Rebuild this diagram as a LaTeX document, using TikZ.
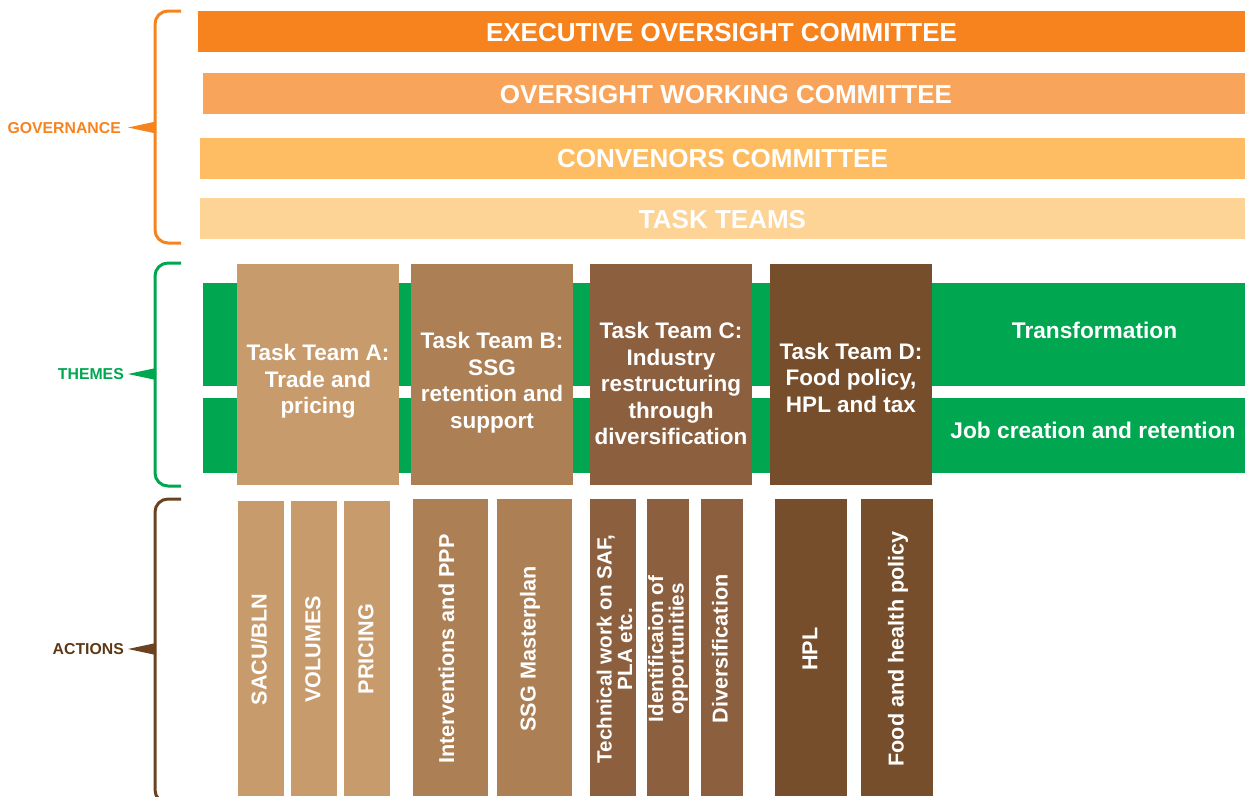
\documentclass[tikz,border=0pt]{standalone}
\usepackage{fontspec}
\setmainfont{Liberation Sans}

% Palette
\definecolor{cExec}{HTML}{F7831F}
\definecolor{cWork}{HTML}{F8A45B}
\definecolor{cConv}{HTML}{FEBD62}
\definecolor{cTask}{HTML}{FDD396}
\definecolor{cGreen}{HTML}{00A650}
\definecolor{cTA}{HTML}{C89B6C}
\definecolor{cTB}{HTML}{AC7F55}
\definecolor{cTC}{HTML}{8C5F3E}
\definecolor{cTD}{HTML}{774E2B}
\definecolor{cActBrace}{HTML}{6B4220}
\definecolor{cActText}{HTML}{5E3815}

\begin{document}
\begin{tikzpicture}[x=1pt,y=-1pt,
  box/.style={draw=none, inner sep=0pt, outer sep=0pt, anchor=north west},
  govtext/.style={text=white, inner sep=0pt, font=\bfseries\fontsize{26}{31}\selectfont},
  teamtext/.style={text=white, inner sep=0pt, align=center, font=\bfseries\fontsize{22.5}{26.6}\selectfont},
  themetext/.style={text=white, inner sep=0pt, font=\bfseries\fontsize{22.7}{27}\selectfont},
  acttext/.style={text=white, inner sep=0pt, align=center, rotate=90, font=\bfseries\fontsize{21.6}{20.5}\selectfont},
  acttwo/.style={acttext, font=\bfseries\fontsize{20.6}{20.4}\selectfont},
  sidetext/.style={inner sep=0pt, anchor=east, font=\bfseries\fontsize{15.8}{19}\selectfont},
  bracket/.style={line width=3pt, rounded corners=13pt},
]
\useasboundingbox (0,0) rectangle (1245,796);
\clip (0,0) rectangle (1245,796);

% ---------------- Governance ----------------
\node[box, fill=cExec, minimum width=1047pt, minimum height=41pt] (exec) at (198,11) {};
\node[govtext] (execT) at ([yshift=-1pt]exec.center) {EXECUTIVE OVERSIGHT COMMITTEE};
\node[box, fill=cWork, minimum width=1042pt, minimum height=41pt] (work) at (203,73) {};
\node[govtext] (workT) at ([xshift=2pt,yshift=-1pt]work.center) {OVERSIGHT WORKING COMMITTEE};
\node[box, fill=cConv, minimum width=1045pt, minimum height=41pt] (conv) at (200,138) {};
\node[govtext] (convT) at ([yshift=-0.5pt]conv.center) {CONVENORS COMMITTEE};
\node[box, fill=cTask, minimum width=1045pt, minimum height=41pt] (tasks) at (200,198) {};
\node[govtext] (tasksT) at ([yshift=-1pt]tasks.center) {TASK TEAMS};

% ---------------- Themes ----------------
\node[box, fill=cGreen, minimum width=1042pt, minimum height=103pt] (th1) at (203,283) {};
\node[box, fill=cGreen, minimum width=1042pt, minimum height=75pt] (th2) at (203,398) {};
\node[themetext] (th1T) at (1094.5,330) {Transformation};
\node[themetext] (th2T) at (1093,430) {Job creation and retention};

\node[box, fill=cTA, minimum width=162pt, minimum height=221pt] (ttA) at (237,264) {};
\node[box, fill=cTB, minimum width=162pt, minimum height=221pt] (ttB) at (411,264) {};
\node[box, fill=cTC, minimum width=162pt, minimum height=221pt] (ttC) at (590,264) {};
\node[box, fill=cTD, minimum width=162pt, minimum height=221pt] (ttD) at (770,264) {};
\node[teamtext] (ttAT) at (318,381.3) {Task Team A:\\Trade and\\pricing};
\node[teamtext] (ttBT) at (492,382.7) {Task Team B:\\SSG\\retention and\\support};
\node[teamtext] (ttCT) at (671,383.7) {Task Team C:\\Industry\\restructuring\\through\\diversification};
\node[teamtext] (ttDT) at (851,377.7) {Task Team D:\\Food policy,\\HPL and tax};

% ---------------- Actions ----------------
\node[box, fill=cTA, minimum width=46pt, minimum height=295pt] (a1) at (238,501) {};
\node[box, fill=cTA, minimum width=46pt, minimum height=295pt] (a2) at (291,501) {};
\node[box, fill=cTA, minimum width=46pt, minimum height=295pt] (a3) at (344,501) {};
\node[box, fill=cTB, minimum width=75pt, minimum height=297pt] (b1) at (413,499) {};
\node[box, fill=cTB, minimum width=75pt, minimum height=297pt] (b2) at (497,499) {};
\node[box, fill=cTC, minimum width=46pt, minimum height=297pt] (c1) at (590,499) {};
\node[box, fill=cTC, minimum width=42pt, minimum height=297pt] (c2) at (647,499) {};
\node[box, fill=cTC, minimum width=42pt, minimum height=297pt] (c3) at (701,499) {};
\node[box, fill=cTD, minimum width=72pt, minimum height=297pt] (d1) at (775,499) {};
\node[box, fill=cTD, minimum width=72pt, minimum height=297pt] (d2) at (861,499) {};

\node[acttext] (a1T) at (259,649.5) {SACU/BLN};
\node[acttext] (a2T) at (313,649.5) {VOLUMES};
\node[acttext] (a3T) at (366,649) {PRICING};
\node[acttext] (b1T) at (446.5,649) {Interventions and PPP};
\node[acttext] (b2T) at (530,648.7) {SSG Masterplan};
\node[acttwo] (c1T) at (614.5,649) {Technical work on SAF,\\PLA etc.};
\node[acttwo] (c2T) at (668,649) {Identificaion of\\opportunities};
\node[acttext] (c3T) at (720,649) {Diversification};
\node[acttext] (d1T) at (810,649) {HPL};
\node[acttext] (d2T) at (898,648.8) {Food and health policy};

% ---------------- Side brackets and labels ----------------
\draw[bracket, cExec] (181,11) -- (155,11) -- (155,243) -- (181,243);
\fill[cExec] (156,121.5) -- (128,127.5) -- (156,133.5) -- cycle;
\node[sidetext, text=cExec] (govL) at (121,128) {GOVERNANCE};

\draw[bracket, cGreen] (181,263) -- (155,263) -- (155,486) -- (181,486);
\fill[cGreen] (156,368) -- (128,374) -- (156,380) -- cycle;
\node[sidetext, text=cGreen] (themeL) at (124,374) {THEMES};

\draw[bracket, cActBrace] (181,499) -- (155,499) -- (155,803) -- (181,803);
\fill[cActBrace] (156,643) -- (128,649) -- (156,655) -- cycle;
\node[sidetext, text=cActText] (actL) at (124,649) {ACTIONS};
\end{tikzpicture}
\end{document}
